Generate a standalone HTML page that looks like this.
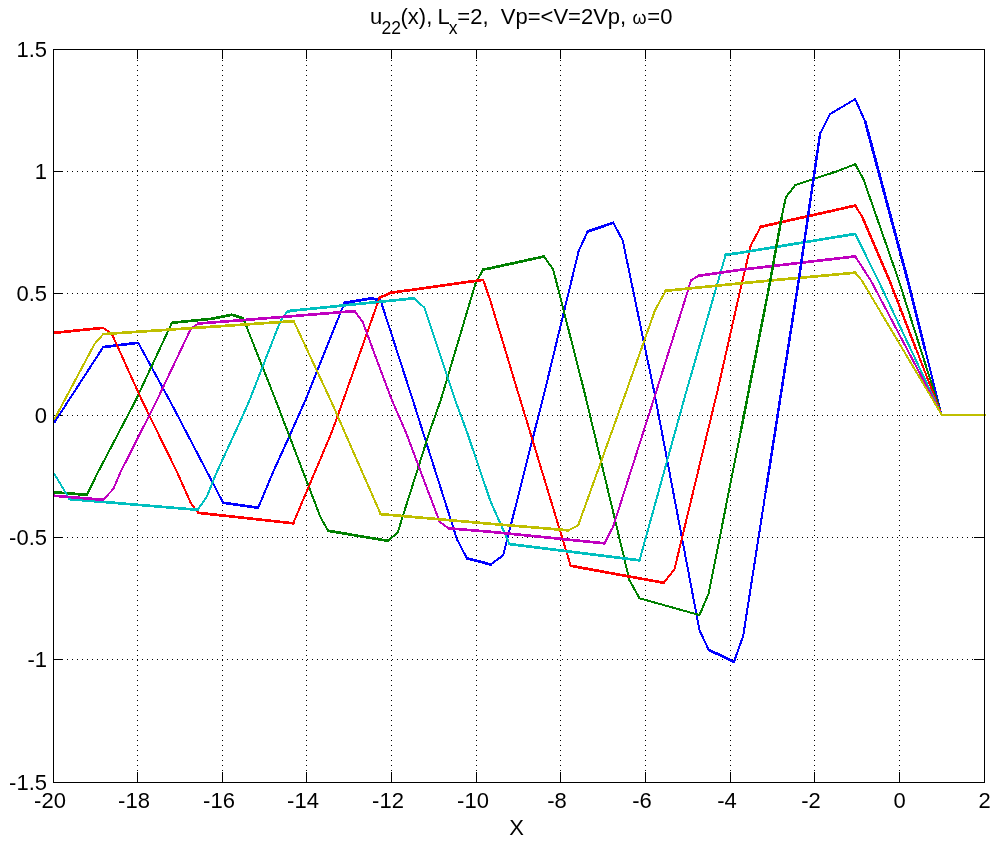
<!DOCTYPE html>
<html><head><meta charset="utf-8"><title>u22(x)</title>
<style>
html,body{margin:0;padding:0;background:#fff;}
svg{display:block;}
text{font-family:"Liberation Sans",Arial,Helvetica,sans-serif;fill:#000;}
</style></head><body>
<svg width="999" height="846" viewBox="0 0 999 846">
<rect width="999" height="846" fill="#fff"/>
<g stroke="#000" stroke-width="1" stroke-dasharray="1 4" shape-rendering="crispEdges" fill="none">
<line x1="137.50" y1="60" x2="137.50" y2="782.5"/>
<line x1="222.50" y1="60" x2="222.50" y2="782.5"/>
<line x1="306.50" y1="60" x2="306.50" y2="782.5"/>
<line x1="391.50" y1="60" x2="391.50" y2="782.5"/>
<line x1="476.50" y1="60" x2="476.50" y2="782.5"/>
<line x1="560.50" y1="60" x2="560.50" y2="782.5"/>
<line x1="645.50" y1="60" x2="645.50" y2="782.5"/>
<line x1="730.50" y1="60" x2="730.50" y2="782.5"/>
<line x1="814.50" y1="60" x2="814.50" y2="782.5"/>
<line x1="899.50" y1="60" x2="899.50" y2="782.5"/>
<line x1="57" y1="171.50" x2="984.5" y2="171.50"/>
<line x1="57" y1="293.50" x2="984.5" y2="293.50"/>
<line x1="57" y1="415.50" x2="984.5" y2="415.50"/>
<line x1="57" y1="537.50" x2="984.5" y2="537.50"/>
<line x1="57" y1="659.50" x2="984.5" y2="659.50"/>
</g>
<g stroke="#000" stroke-width="1" shape-rendering="crispEdges" fill="none">
<line x1="137.50" y1="49.5" x2="137.50" y2="59.0"/><line x1="137.50" y1="782.5" x2="137.50" y2="772.0"/>
<line x1="222.50" y1="49.5" x2="222.50" y2="59.0"/><line x1="222.50" y1="782.5" x2="222.50" y2="772.0"/>
<line x1="306.50" y1="49.5" x2="306.50" y2="59.0"/><line x1="306.50" y1="782.5" x2="306.50" y2="772.0"/>
<line x1="391.50" y1="49.5" x2="391.50" y2="59.0"/><line x1="391.50" y1="782.5" x2="391.50" y2="772.0"/>
<line x1="476.50" y1="49.5" x2="476.50" y2="59.0"/><line x1="476.50" y1="782.5" x2="476.50" y2="772.0"/>
<line x1="560.50" y1="49.5" x2="560.50" y2="59.0"/><line x1="560.50" y1="782.5" x2="560.50" y2="772.0"/>
<line x1="645.50" y1="49.5" x2="645.50" y2="59.0"/><line x1="645.50" y1="782.5" x2="645.50" y2="772.0"/>
<line x1="730.50" y1="49.5" x2="730.50" y2="59.0"/><line x1="730.50" y1="782.5" x2="730.50" y2="772.0"/>
<line x1="814.50" y1="49.5" x2="814.50" y2="59.0"/><line x1="814.50" y1="782.5" x2="814.50" y2="772.0"/>
<line x1="899.50" y1="49.5" x2="899.50" y2="59.0"/><line x1="899.50" y1="782.5" x2="899.50" y2="772.0"/>
<line x1="53.5" y1="171.50" x2="63.0" y2="171.50"/><line x1="984.5" y1="171.50" x2="974.0" y2="171.50"/>
<line x1="53.5" y1="293.50" x2="63.0" y2="293.50"/><line x1="984.5" y1="293.50" x2="974.0" y2="293.50"/>
<line x1="53.5" y1="415.50" x2="63.0" y2="415.50"/><line x1="984.5" y1="415.50" x2="974.0" y2="415.50"/>
<line x1="53.5" y1="537.50" x2="63.0" y2="537.50"/><line x1="984.5" y1="537.50" x2="974.0" y2="537.50"/>
<line x1="53.5" y1="659.50" x2="63.0" y2="659.50"/><line x1="984.5" y1="659.50" x2="974.0" y2="659.50"/>
</g>
<g fill="none" stroke-width="2" stroke-linejoin="round" stroke-linecap="round" shape-rendering="crispEdges" transform="translate(0.7,0.3)">
<polyline stroke="#0000ff" points="53.8,422.0 102.5,346.8 137.5,342.5 170.0,402.0 222.5,502.5 257.5,507.5 272.5,471.5 290.0,433.0 305.5,398.0 343.8,302.5 371.2,298.0 380.0,300.5 412.5,401.0 456.2,538.8 466.2,558.0 490.0,564.2 502.5,555.0 544.0,391.0 578.0,250.5 587.0,231.2 612.5,222.5 622.0,240.0 653.8,393.0 698.8,630.0 708.0,649.5 733.3,661.5 742.5,635.5 765.0,491.5 798.0,280.0 819.4,133.3 829.4,113.8 854.5,98.8 864.5,121.3 907.0,280.0 940.5,413.5 941.5,415.0 984.5,415.0"/>
<polyline stroke="#0000ff" stroke-width="2.7" points="102.5,346.8 137.5,342.5"/>
<polyline stroke="#0000ff" stroke-width="2.7" points="222.5,502.5 257.5,507.5"/>
<polyline stroke="#0000ff" stroke-width="2.7" points="343.8,302.5 371.2,298.0 380.0,300.5"/>
<polyline stroke="#0000ff" stroke-width="2.7" points="466.2,558.0 490.0,564.2"/>
<polyline stroke="#0000ff" stroke-width="2.7" points="587.0,231.2 612.5,222.5"/>
<polyline stroke="#0000ff" stroke-width="2.7" points="708.0,649.5 733.3,661.5"/>
<polyline stroke="#008000" points="53.8,492.0 86.2,494.5 97.5,471.5 135.0,400.0 171.2,322.5 210.0,318.6 231.2,314.5 242.5,318.0 275.0,400.0 288.0,434.0 320.0,517.5 327.5,530.5 387.0,540.5 397.0,532.5 401.2,518.8 428.8,431.5 440.0,400.0 475.0,282.5 482.5,269.2 490.0,267.8 543.2,256.2 552.5,269.2 583.5,390.8 628.8,580.0 638.8,598.0 698.8,614.8 708.0,593.0 740.0,431.5 768.5,286.0 781.3,215.3 785.1,197.0 794.6,184.7 835.2,171.4 854.5,163.9 862.8,179.0 898.0,280.0 940.5,413.5 941.5,415.0"/>
<polyline stroke="#008000" stroke-width="2.7" points="53.8,492.0 86.2,494.5"/>
<polyline stroke="#008000" stroke-width="2.7" points="171.2,322.5 210.0,318.6 231.2,314.5 242.5,318.0"/>
<polyline stroke="#008000" stroke-width="2.7" points="327.5,530.5 387.0,540.5"/>
<polyline stroke="#008000" stroke-width="2.7" points="482.5,269.2 490.0,267.8 543.2,256.2"/>
<polyline stroke="#ff0000" points="53.8,332.5 102.5,327.5 111.2,333.8 141.2,400.0 176.2,471.5 190.0,502.5 197.5,512.5 292.5,523.0 331.2,431.5 342.5,400.0 378.8,297.5 390.0,292.5 482.5,279.5 490.0,301.5 517.0,391.0 570.0,565.5 663.2,582.5 673.8,568.8 716.8,390.5 739.5,290.0 750.0,245.3 760.0,226.5 854.5,205.3 861.5,216.5 888.8,280.0 940.5,413.5 941.5,415.0"/>
<polyline stroke="#ff0000" stroke-width="2.7" points="53.8,332.5 102.5,327.5"/>
<polyline stroke="#ff0000" stroke-width="2.7" points="197.5,512.5 292.5,523.0"/>
<polyline stroke="#ff0000" stroke-width="2.7" points="378.8,297.5 390.0,292.5 482.5,279.5"/>
<polyline stroke="#ff0000" stroke-width="2.7" points="570.0,565.5 663.2,582.5"/>
<polyline stroke="#ff0000" stroke-width="2.7" points="760.0,226.5 854.5,205.3"/>
<polyline stroke="#00bfbf" points="53.8,473.8 68.8,498.8 197.0,509.5 206.2,496.2 216.2,471.5 240.0,420.0 248.8,400.0 280.0,320.0 286.2,311.8 290.0,310.5 413.2,298.0 423.8,307.5 454.5,400.0 466.2,431.5 489.8,501.0 508.8,543.8 638.8,560.0 685.8,390.5 725.0,254.5 739.5,252.5 854.5,233.6 877.5,280.0 940.5,413.5 941.5,415.0"/>
<polyline stroke="#00bfbf" stroke-width="2.7" points="68.8,498.8 197.0,509.5"/>
<polyline stroke="#00bfbf" stroke-width="2.7" points="286.2,311.8 290.0,310.5 413.2,298.0"/>
<polyline stroke="#00bfbf" stroke-width="2.7" points="508.8,543.8 638.8,560.0"/>
<polyline stroke="#00bfbf" stroke-width="2.7" points="725.0,254.5 739.5,252.5 854.5,233.6"/>
<polyline stroke="#bf00bf" points="53.8,495.5 102.5,499.5 112.5,488.8 120.0,471.5 156.2,400.0 190.0,328.8 197.5,323.2 240.0,320.0 353.8,310.8 361.8,321.2 391.2,400.0 405.0,431.5 438.8,521.2 447.5,528.0 490.0,531.5 603.8,543.0 612.5,526.2 655.8,390.5 687.3,290.0 690.3,280.0 698.0,275.5 739.5,269.5 854.5,256.1 870.0,280.0 940.5,413.5 941.5,415.0"/>
<polyline stroke="#bf00bf" stroke-width="2.7" points="53.8,495.5 102.5,499.5"/>
<polyline stroke="#bf00bf" stroke-width="2.7" points="197.5,323.2 240.0,320.0 353.8,310.8"/>
<polyline stroke="#bf00bf" stroke-width="2.7" points="447.5,528.0 490.0,531.5 603.8,543.0"/>
<polyline stroke="#bf00bf" stroke-width="2.7" points="698.0,275.5 739.5,269.5 854.5,256.1"/>
<polyline stroke="#bfbf00" points="53.8,418.8 93.8,343.8 102.5,333.8 240.0,324.5 293.0,320.8 330.0,400.0 343.8,431.5 380.0,513.8 490.0,523.5 567.5,530.0 577.5,525.0 625.8,390.5 654.3,310.0 665.0,290.5 739.5,283.0 854.5,272.4 861.0,280.0 940.5,413.5 941.5,415.0 984.5,415.0"/>
<polyline stroke="#bfbf00" stroke-width="2.7" points="102.5,333.8 240.0,324.5 293.0,320.8"/>
<polyline stroke="#bfbf00" stroke-width="2.7" points="380.0,513.8 490.0,523.5 567.5,530.0"/>
<polyline stroke="#bfbf00" stroke-width="2.7" points="665.0,290.5 739.5,283.0 854.5,272.4"/>
<polyline stroke="#0000ff" stroke-width="2.8" points="864.5,121.3 907,280 924,348"/>
<polyline stroke="#0000ff" stroke-width="2.5" points="765,491.5 798,280 819.4,133.3"/>
<polyline stroke="#008000" stroke-width="2.5" points="740,431.5 768.5,286 781.3,215.3"/>
<polyline stroke="#ff0000" stroke-width="2.4" points="861.5,216.5 888.75,280 915,348"/>
</g>
<rect x="53.5" y="49.5" width="931.0" height="733.0" stroke="#000" stroke-width="1" shape-rendering="crispEdges" fill="none"/>
<g font-size="22">
<text transform="translate(50.0,807.6) scale(1,1.03)" text-anchor="middle">-20</text>
<text transform="translate(134.0,807.6) scale(1,1.03)" text-anchor="middle">-18</text>
<text transform="translate(219.0,807.6) scale(1,1.03)" text-anchor="middle">-16</text>
<text transform="translate(303.0,807.6) scale(1,1.03)" text-anchor="middle">-14</text>
<text transform="translate(388.0,807.6) scale(1,1.03)" text-anchor="middle">-12</text>
<text transform="translate(473.0,807.6) scale(1,1.03)" text-anchor="middle">-10</text>
<text transform="translate(557.0,807.6) scale(1,1.03)" text-anchor="middle">-8</text>
<text transform="translate(642.0,807.6) scale(1,1.03)" text-anchor="middle">-6</text>
<text transform="translate(727.0,807.6) scale(1,1.03)" text-anchor="middle">-4</text>
<text transform="translate(811.0,807.6) scale(1,1.03)" text-anchor="middle">-2</text>
<text transform="translate(899.5,807.6) scale(1,1.03)" text-anchor="middle">0</text>
<text transform="translate(984.5,807.6) scale(1,1.03)" text-anchor="middle">2</text>
<text transform="translate(47,57.0) scale(1,1.03)" text-anchor="end">1.5</text>
<text transform="translate(47,179.0) scale(1,1.03)" text-anchor="end">1</text>
<text transform="translate(47,301.0) scale(1,1.03)" text-anchor="end">0.5</text>
<text transform="translate(47,423.0) scale(1,1.03)" text-anchor="end">0</text>
<text transform="translate(47,545.0) scale(1,1.03)" text-anchor="end">-0.5</text>
<text transform="translate(47,667.0) scale(1,1.03)" text-anchor="end">-1</text>
<text transform="translate(47,790.0) scale(1,1.03)" text-anchor="end">-1.5</text>
<text transform="translate(516.5,835) scale(1,1.03)" text-anchor="middle">X</text>
<text transform="translate(370,24) scale(1,1.03)" font-size="22">u</text>
<text transform="translate(381.5,34) scale(1,1.03)" font-size="17.5">22</text>
<text transform="translate(400.5,24) scale(1,1.03)" font-size="22">(x),</text>
<text transform="translate(437.5,24) scale(1,1.03)" font-size="22">L</text>
<text transform="translate(448.8,34) scale(1,1.03)" font-size="17.5">x</text>
<text transform="translate(457.3,24) scale(1,1.03)" font-size="22">=2,</text>
<text transform="translate(500.8,24) scale(1,1.03)" font-size="22">Vp=&lt;V=2Vp,</text>
<text transform="translate(632.5,24) scale(1,1.03)" font-size="18">ω</text>
<text transform="translate(647.3,24) scale(1,1.03)" font-size="22">=0</text>
</g>
</svg>
</body></html>
